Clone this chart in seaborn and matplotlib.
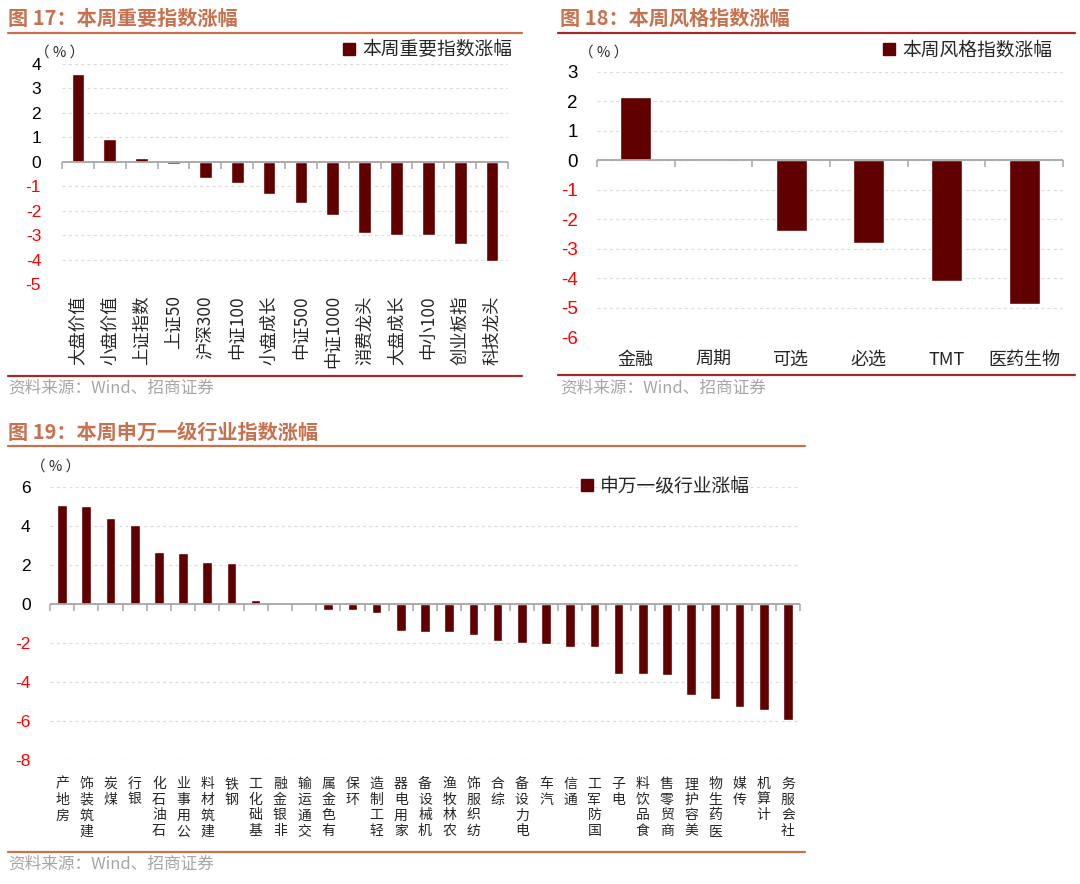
import numpy as np
import pandas as pd
import matplotlib
matplotlib.use("Agg")
import matplotlib.pyplot as plt
import seaborn as sns
from matplotlib.lines import Line2D
from matplotlib.patches import Patch

sns.set_theme(style="white")
plt.rcParams['font.family'] = ['Noto Sans CJK SC', 'DejaVu Sans']
plt.rcParams['axes.unicode_minus'] = False

# ---------------- data ----------------
idx_names = ["大盘价值", "小盘价值", "上证指数", "上证50", "沪深300", "中证100", "小盘成长",
             "中证500", "中证1000", "消费龙头", "大盘成长", "中小100", "创业板指", "科技龙头"]
idx_values = [3.59, 0.94, 0.14, -0.08, -0.67, -0.88, -1.32, -1.67, -2.18, -2.91, -2.98, -3.01, -3.35, -4.04]
idx_yticks = [4, 3, 2, 1, 0, -1, -2, -3, -4, -5]

style_names = ["金融", "周期", "可选", "必选", "TMT", "医药生物"]
style_values = [2.15, 0.0, -2.41, -2.80, -4.11, -4.87]
style_yticks = [3, 2, 1, 0, -1, -2, -3, -4, -5, -6]

sw_names = ["房地产", "建筑装饰", "煤炭", "银行", "石油石化", "公用事业", "建筑材料", "钢铁",
            "基础化工", "非银金融", "交通运输", "有色金属", "环保", "轻工制造", "家用电器",
            "机械设备", "农林牧渔", "纺织服饰", "综合", "电力设备", "汽车", "通信", "国防军工",
            "电子", "食品饮料", "商贸零售", "美容护理", "医药生物", "传媒", "计算机", "社会服务"]
sw_values = [5.09, 5.04, 4.42, 4.03, 2.66, 2.62, 2.13, 2.11, 0.19, 0.05, 0.02, -0.29, -0.31,
             -0.48, -1.38, -1.42, -1.45, -1.61, -1.90, -2.00, -2.05, -2.19, -2.22, -3.57,
             -3.59, -3.64, -4.65, -4.87, -5.26, -5.45, -5.93]
sw_yticks = [6, 4, 2, 0, -2, -4, -6, -8]

titles = ["图 17：本周重要指数涨幅", "图 18：本周风格指数涨幅", "图 19：本周申万一级行业指数涨幅"]
legends = ["本周重要指数涨幅", "本周风格指数涨幅", "申万一级行业涨幅"]
source = "资料来源：Wind、招商证券"

BAR = "#600000"
TITLE_C = "#C8714F"
DARKLINE = "#A32A2A"
GRID = "#DDDDDD"
ZERO = "#A6A6A6"

W, H = 1080, 884
fig = plt.figure(figsize=(W / 100, H / 100), dpi=100)


def box(x0, x1, ytop, ybot):
    return [x0 / W, 1 - ybot / H, (x1 - x0) / W, (ybot - ytop) / H]


def fx(x):
    return x / W


def fy(y):
    return 1 - y / H


def draw_panel(ax, names, values, yticks, ylab_size, ylab_pad, xlab_kw, legend_text,
               legend_anchor, leg_size):
    df = pd.DataFrame({"name": names, "value": values})
    sns.barplot(data=df, x="name", y="value", color=BAR, width=0.4, ax=ax,
                saturation=1, zorder=3)
    n = len(names)
    ax.set_xlim(-0.5, n - 0.5)
    ax.set_ylim(min(yticks), max(yticks))
    ax.set_yticks(yticks)
    ax.set_yticklabels([str(t) for t in yticks], family=['Liberation Sans', 'DejaVu Sans'],
                       fontsize=ylab_size)
    for lab, t in zip(ax.get_yticklabels(), yticks):
        lab.set_color("#FF0000" if t < 0 else "#000000")
    ax.tick_params(axis='y', length=0, pad=ylab_pad)
    for s in ax.spines.values():
        s.set_visible(False)
    ax.set_xlabel("")
    ax.set_ylabel("")
    ax.yaxis.grid(True, linestyle=(0, (2.5, 2.5)), color=GRID, linewidth=0.9, zorder=0)
    ax.xaxis.grid(False)
    ax.axhline(0, color=ZERO, linewidth=1.3, zorder=4)
    bounds = np.arange(n + 1) - 0.5
    ax.plot(bounds, np.zeros(n + 1), linestyle='none', marker=3, markersize=5,
            markeredgewidth=1.1, color=ZERO, zorder=4, clip_on=False)
    ax.tick_params(axis='x', length=0, **xlab_kw.pop('tick', {}))
    ax.set_xticks(range(n))
    ax.set_xticklabels(xlab_kw.pop('labels'), **xlab_kw)
    ax.legend(handles=[Patch(facecolor=BAR, edgecolor=BAR)], labels=[legend_text],
              loc='center right', bbox_to_anchor=legend_anchor, bbox_transform=fig.transFigure,
              frameon=False, handlelength=0.6, handleheight=0.6, handletextpad=0.4,
              borderpad=0, borderaxespad=0, fontsize=leg_size)


# ---------- panel 1 ----------
ax1 = fig.add_axes(box(62, 508, 64, 284))
draw_panel(ax1, idx_names, idx_values, idx_yticks, 12.5, 15,
           dict(labels=idx_names, rotation=90, fontsize=12.5, va='top', ha='center',
                tick=dict(pad=8)),
           legends[0], (fx(512), fy(50)), 13.5)
fig.text(fx(60), fy(53), "（ % ）", fontsize=10.5, ha='center', va='center')

# ---------- panel 2 ----------
ax2 = fig.add_axes(box(597, 1063, 72, 337))
draw_panel(ax2, style_names, style_values, style_yticks, 13.5, 14,
           dict(labels=style_names, rotation=0, fontsize=13, va='top', ha='center',
                tick=dict(pad=10)),
           legends[1], (fx(1052), fy(50)), 13.5)
fig.text(fx(604), fy(53), "（ % ）", fontsize=10.5, ha='center', va='center')

# ---------- panel 3 ----------
ax3 = fig.add_axes(box(50, 800, 487, 760))
stacked = ["\n".join(reversed(list(s))) for s in sw_names]
draw_panel(ax3, sw_names, sw_values, sw_yticks, 12.5, 14,
           dict(labels=stacked, rotation=0, fontsize=10, va='top', ha='center',
                linespacing=1.17, tick=dict(pad=12)),
           legends[2], (fx(750), fy(486)), 13.5)
fig.text(fx(56), fy(467), "（ % ）", fontsize=10.5, ha='center', va='center')

# ---------- titles, rules, sources ----------
fig.text(fx(8), fy(18), titles[0], fontsize=14.5, fontweight='bold', color=TITLE_C,
         ha='left', va='center')
fig.text(fx(560), fy(18), titles[1], fontsize=14.5, fontweight='bold', color=TITLE_C,
         ha='left', va='center')
fig.text(fx(8), fy(432), titles[2], fontsize=14.5, fontweight='bold', color=TITLE_C,
         ha='left', va='center')

rules = [((8, 522), 33, TITLE_C), ((558, 1075), 33, DARKLINE),
         ((8, 522), 376, DARKLINE), ((558, 1075), 375, DARKLINE),
         ((8, 805), 446, TITLE_C), ((8, 805), 852, TITLE_C)]
for (x0, x1), y, c in rules:
    fig.add_artist(Line2D([fx(x0), fx(x1)], [fy(y), fy(y)], color=c, linewidth=1.6,
                          transform=fig.transFigure))

for x, y in [(8, 388), (560, 388), (8, 864)]:
    fig.text(fx(x), fy(y), source, fontsize=12, color="#A6A6A6", ha='left', va='center')

fig.savefig("out.png", dpi=100)
